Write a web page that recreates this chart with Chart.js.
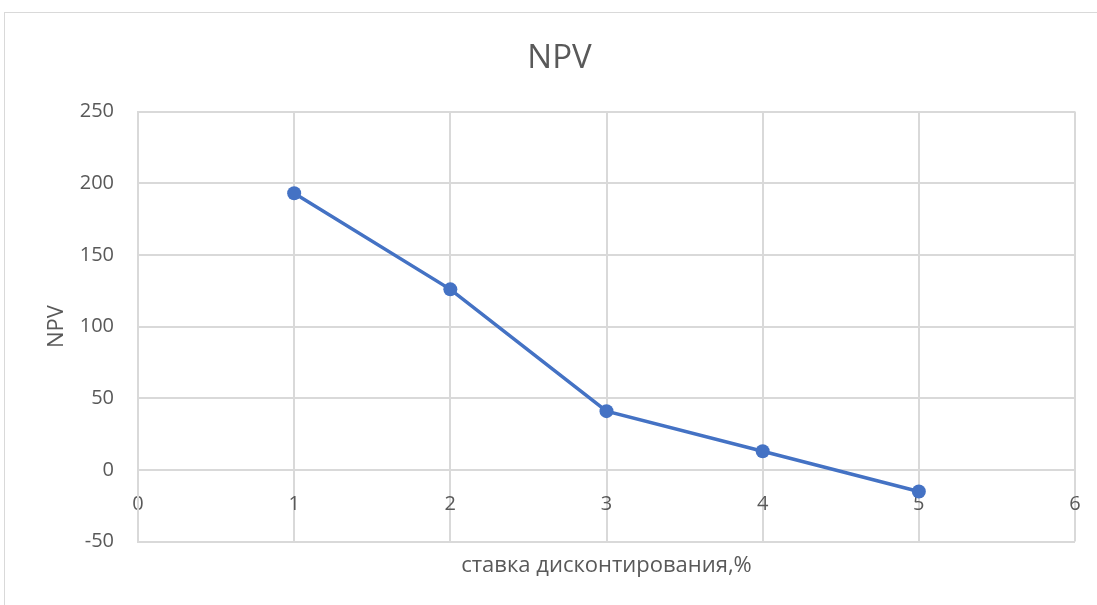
<!DOCTYPE html>
<html>
<head>
<meta charset="utf-8">
<script src="https://cdn.jsdelivr.net/npm/chart.js@4"></script>
<style>
  html, body { margin: 0; padding: 0; background: #fff; }
  #wrap { position: relative; width: 1097px; height: 605px; overflow: hidden; }
  #frame { position: absolute; left: 4px; top: 12px; width: 1200px; height: 700px; border: 1px solid #d9d9d9; box-sizing: border-box; }
  #c { position: absolute; left: 0; top: 0; }
</style>
</head>
<body>
<div id="wrap">
  <div id="frame"></div>
  <canvas id="c" width="1097" height="605"></canvas>
</div>
<script>
const chartTitle = "NPV";
const xTitle = "ставка дисконтирования,%";
const yTitle = "NPV";
const rates = [1, 2, 3, 4, 5];
const npvValues = [193, 126, 41, 13, -15];
const xTicks = [0, 1, 2, 3, 4, 5, 6];
const yTicks = [-50, 0, 50, 100, 150, 200, 250];

const FONT = "'Open Sans', sans-serif";
const TXT = "#595959";
const GRID = "#d9d9d9";

const points = rates.map((r, i) => ({ x: r, y: npvValues[i] }));
const noSidePad = (s) => { s.paddingLeft = 0; s.paddingRight = 0; };

new Chart(document.getElementById("c"), {
  type: "scatter",
  data: {
    datasets: [{
      data: points,
      showLine: true,
      borderColor: "#4472C4",
      backgroundColor: "#4472C4",
      borderWidth: 3.5,
      pointRadius: 7,
      pointHoverRadius: 7,
      pointBorderWidth: 0,
      tension: 0
    }]
  },
  options: {
    responsive: false,
    animation: false,
    devicePixelRatio: 1,
    layout: { padding: { left: 44, right: 22, top: 39, bottom: 26 } },
    plugins: {
      legend: { display: false },
      tooltip: { enabled: false },
      title: {
        display: true,
        text: chartTitle,
        color: TXT,
        font: { family: FONT, size: 33, weight: "normal" },
        padding: { top: 0, bottom: 33 }
      }
    },
    scales: {
      x: {
        type: "linear",
        position: { y: 0 },
        min: xTicks[0],
        max: xTicks[xTicks.length - 1],
        afterBuildTicks: (s) => { s.ticks = xTicks.map(v => ({ value: v })); },
        afterFit: noSidePad,
        ticks: { color: TXT, font: { family: FONT, size: 20 }, padding: 22, maxRotation: 0 },
        grid: { color: GRID, lineWidth: 2, drawTicks: false },
        border: { display: false }
      },
      x2: {
        type: "linear",
        axis: "x",
        position: "bottom",
        min: xTicks[0],
        max: xTicks[xTicks.length - 1],
        afterFit: noSidePad,
        ticks: { display: false },
        grid: { display: false, drawTicks: false },
        border: { display: false },
        title: {
          display: true,
          text: xTitle,
          color: TXT,
          font: { family: FONT, size: 22 },
          padding: { top: 11, bottom: 0 }
        }
      },
      y: {
        type: "linear",
        min: yTicks[0],
        max: yTicks[yTicks.length - 1],
        afterBuildTicks: (s) => { s.ticks = yTicks.map(v => ({ value: v })); },
        afterFit: (s) => { s.width = 94; },
        ticks: { color: TXT, font: { family: FONT, size: 20 }, padding: 24 },
        grid: { color: GRID, lineWidth: 2, drawTicks: false },
        border: { color: GRID, width: 2 },
        title: {
          display: true,
          text: yTitle,
          color: TXT,
          font: { family: FONT, size: 22 },
          padding: { top: 0, bottom: 10 }
        }
      }
    }
  }
});
</script>
</body>
</html>
